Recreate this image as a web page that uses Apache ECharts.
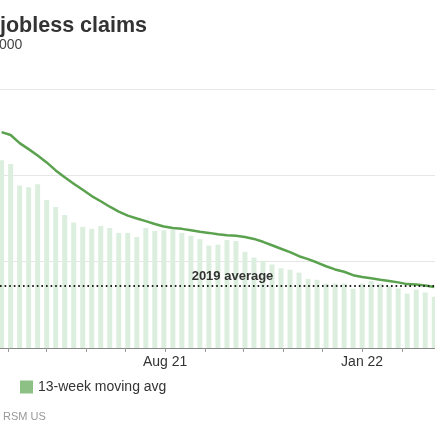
<!DOCTYPE html>
<html>
<head>
<meta charset="utf-8">
<script src="https://cdn.jsdelivr.net/npm/echarts@6/dist/echarts.min.js"></script>
<style>
  html, body { margin: 0; padding: 0; background: #fff; }
  #chart { width: 435px; height: 435px; }
</style>
</head>
<body>
<div id="chart"></div>
<script>
// Week-ending dates (Saturdays)
const weekEnding = [
    '2021-03-27', '2021-04-03', '2021-04-10', '2021-04-17', '2021-04-24',
    '2021-05-01', '2021-05-08', '2021-05-15', '2021-05-22', '2021-05-29',
    '2021-06-05', '2021-06-12', '2021-06-19', '2021-06-26',
    '2021-07-03', '2021-07-10', '2021-07-17', '2021-07-24', '2021-07-31',
    '2021-08-07', '2021-08-14', '2021-08-21', '2021-08-28',
    '2021-09-04', '2021-09-11', '2021-09-18', '2021-09-25',
    '2021-10-02', '2021-10-09', '2021-10-16', '2021-10-23', '2021-10-30',
    '2021-11-06', '2021-11-13', '2021-11-20', '2021-11-27',
    '2021-12-04', '2021-12-11', '2021-12-18', '2021-12-25',
    '2022-01-01', '2022-01-08', '2022-01-15', '2022-01-22', '2022-01-29',
    '2022-02-05', '2022-02-12', '2022-02-19', '2022-02-26'
];

// Weekly claims, thousands
const weeklyClaims = [
    652, 639, 565, 559, 569, 514, 490, 462, 436, 421,
    414, 424, 417, 400, 400, 386, 417, 407, 409, 412,
    400, 390, 378, 356, 359, 375, 372, 334, 314, 303,
    290, 277, 272, 262, 240, 237, 224, 224, 224, 206,
    224, 233, 224, 216, 207, 189, 203, 193, 178
];

// 13-week moving average, thousands
const movingAvg = [
    750, 740, 712, 691, 669, 645, 617, 593, 571, 550,
    528, 510, 491, 474, 460, 450, 441, 431, 422, 417,
    414, 409, 404, 400, 395, 392, 390, 386, 379, 369,
    357, 345, 333, 319, 309, 297, 284, 273, 265, 253,
    247, 242, 237, 233, 228, 222, 221, 217, 212
];

const avg2019 = 217;

// Axis ticks and labels
const monthTicks = [
    '2021-04-01', '2021-05-01', '2021-06-01', '2021-07-01', '2021-08-01',
    '2021-09-01', '2021-10-01', '2021-11-01', '2021-12-01', '2022-01-01', '2022-02-01'
];
const labelTicks = ['2021-08-01', '2022-01-01'];
const labelText = ['Aug 21', 'Jan 22'];
const yTicks = [0, 300, 600, 900];

const FONT = '"Liberation Sans", Arial, sans-serif';
// dates become plain millisecond numbers on a value axis
const toTime = s => new Date(s + 'T00:00:00Z').getTime();
const DAY = 86400000;

const chart = echarts.init(document.getElementById('chart'));

const labelTimes = labelTicks.map(toTime);

const option = {
    animation: false,
    textStyle: { fontFamily: FONT },
    title: [
        {
            text: 'jobless claims',
            left: 0,
            top: 15,
            padding: 0,
            textStyle: { fontSize: 21.5, fontWeight: 'bold', color: '#333', fontFamily: FONT }
        },
        {
            text: '000',
            left: -1,
            top: 38,
            padding: 0,
            textStyle: { fontSize: 14, fontWeight: 'normal', color: '#444', fontFamily: FONT }
        },
        {
            text: 'RSM US',
            left: 3,
            top: 411,
            padding: 0,
            textStyle: { fontSize: 11, fontWeight: 'normal', color: '#999', fontFamily: FONT }
        }
    ],
    legend: {
        data: [{ name: '13-week moving avg', icon: 'rect', itemStyle: { color: '#8cc084' } }],
        left: 20,
        top: 380,
        padding: 0,
        itemWidth: 13,
        itemHeight: 13,
        textStyle: { fontSize: 14, color: '#333', fontFamily: FONT }
    },
    grid: {
        left: 0,
        right: 0,
        top: 89,
        bottom: 87,
        containLabel: false
    },
    xAxis: {
        type: 'value',
        min: toTime('2021-03-27') - 1.25 * DAY,
        max: toTime('2022-02-26') + 0.6 * DAY,
        axisLine: { lineStyle: { color: '#888', width: 1 } },
        axisTick: {
            show: true,
            length: 4,
            lineStyle: { color: '#999' },
            customValues: monthTicks.map(toTime)
        },
        axisLabel: {
            margin: 7,
            fontSize: 14,
            color: '#333',
            fontFamily: FONT,
            customValues: labelTimes,
            formatter: function (value) {
                const idx = labelTimes.indexOf(value);
                return idx >= 0 ? labelText[idx] : '';
            }
        },
        splitLine: { show: false }
    },
    yAxis: {
        type: 'value',
        min: yTicks[0],
        max: yTicks[yTicks.length - 1],
        interval: 300,
        axisLine: { show: false },
        axisTick: { show: false },
        axisLabel: { show: false },
        splitLine: { lineStyle: { color: '#e6e6e6', width: 1 } }
    },
    series: [
        {
            name: 'Weekly claims',
            type: 'bar',
            barWidth: 5,
            itemStyle: { color: '#dcefdf' },
            data: weekEnding.map((d, i) => [toTime(d), weeklyClaims[i]])
        },
        {
            name: '13-week moving avg',
            type: 'line',
            showSymbol: false,
            smooth: false,
            lineStyle: { color: '#5ba24f', width: 2.5, join: 'round' },
            itemStyle: { color: '#5ba24f' },
            data: weekEnding.map((d, i) => [toTime(d), movingAvg[i]]),
            markLine: {
                silent: true,
                symbol: 'none',
                lineStyle: { color: '#222', width: 2, type: [1.6, 3], cap: 'butt' },
                label: {
                    show: true,
                    position: 'insideMiddleTop',
                    distance: 3,
                    padding: [0, 0, 0, 30],
                    formatter: '2019 average',
                    fontSize: 13,
                    fontWeight: 'bold',
                    color: '#333',
                    fontFamily: FONT
                },
                data: [{ yAxis: avg2019 }]
            }
        }
    ]
};

chart.setOption(option);
</script>
</body>
</html>
